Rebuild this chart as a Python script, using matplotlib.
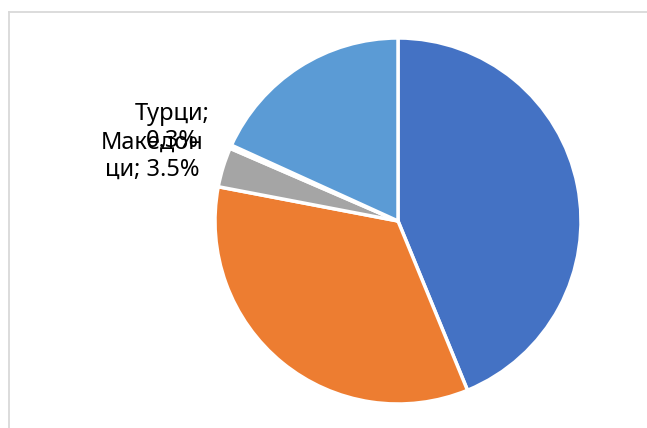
import matplotlib
matplotlib.use("Agg")
import matplotlib.pyplot as plt
from matplotlib.lines import Line2D

plt.rcParams["font.family"] = ["Noto Sans", "DejaVu Sans"]

# данни (дял в %), по часовниковата стрелка от 12 ч.
groups = ["Българи", "Роми", "Македонци", "Турци", "Други"]
shares = [43.8, 34.2, 3.5, 0.3, 18.2]
colors = ["#4472C4", "#ED7D31", "#A5A5A5", "#FFC000", "#5B9BD5"]
labels_shown = {"Македонци": "Македон\nци; 3.5%", "Турци": "Турци;\n0.3%"}
label_pos = {"Македонци": (-1.344, 0.355), "Турци": (-1.235, 0.51)}

W, H = 647, 428
fig = plt.figure(figsize=(W / 100, H / 100), dpi=100)

# рамка на диаграмата (отрязана отдясно и отдолу)
fx, fy = 8.5 / W, 1 - 11.5 / H
fig.add_artist(Line2D([fx, fx], [0, fy], transform=fig.transFigure,
                      color="#D9D9D9", linewidth=1.3))
fig.add_artist(Line2D([fx, 1], [fy, fy], transform=fig.transFigure,
                      color="#D9D9D9", linewidth=1.3))

cx, cy, r = 398, 221, 183
ax = fig.add_axes([(cx - r) / W, (H - cy - r) / H, 2 * r / W, 2 * r / H])
ax.pie(shares, colors=colors, startangle=90, counterclock=False,
       wedgeprops=dict(edgecolor="white", linewidth=2.5), radius=1.0)
ax.set_xlim(-1, 1)
ax.set_ylim(-1, 1)
ax.set_aspect("equal")
ax.axis("off")

for g in ["Македонци", "Турци"]:
    x, y = label_pos[g]
    ax.text(x, y, labels_shown[g], ha="center", va="center",
            fontsize=17, color="#000000", clip_on=False)

fig.savefig("out.png", dpi=100)
